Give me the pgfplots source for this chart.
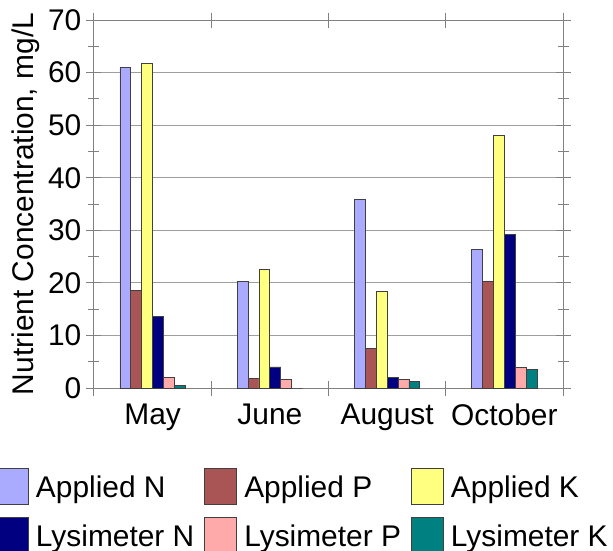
\documentclass[border=0pt]{standalone}
\usepackage{fontspec}
\setmainfont{Liberation Sans}
\usepackage{pgfplots}
\pgfplotsset{compat=1.18}

\definecolor{appN}{RGB}{170,170,255}
\definecolor{appP}{RGB}{170,85,85}
\definecolor{appK}{RGB}{255,255,128}
\definecolor{lysN}{RGB}{0,0,128}
\definecolor{lysP}{RGB}{255,170,170}
\definecolor{lysK}{RGB}{0,128,128}

\newcommand{\bigfont}{\fontsize{30}{36}\selectfont}

\begin{document}
\begin{tikzpicture}
\begin{axis}[
  scale only axis, width=469bp, height=368bp,
  ybar=0pt, bar width=10.9bp,
  xmin=-0.5, xmax=3.5, ymin=0, ymax=70,
  xtick={-0.5,0.5,1.5,2.5,3.5},
  xticklabels={May,June,August,October},
  x tick label as interval,
  ytick={0,10,...,70}, minor y tick num=1,
  ymajorgrids,
  major grid style={draw=black!38, line width=1bp},
  axis line style={draw=black!50, line width=1bp},
  tick align=center, major tick length=15bp, minor tick length=11bp,
  every tick/.style={draw=black!50, line width=1bp},
  tick label style={font=\bigfont},
  /pgf/number format/assume math mode=true,
  xticklabel style={anchor=north, inner sep=0pt, yshift=-8bp},
  yticklabel style={anchor=east, inner sep=0pt, xshift=-5bp},
  ylabel={Nutrient Concentration, mg/L},
  ylabel style={font=\bigfont, at={(rel axis cs:-0.130,0.5)}, anchor=base, inner sep=0pt},
  every axis plot/.append style={draw=black!75, line width=0.8bp,
    legend image code/.code={\draw[##1, line width=1bp] (0bp,-18bp) rectangle (32bp,18bp);}},
  legend columns=3,
  legend cell align=left,
  legend style={at={(rel axis cs:-0.209,-0.2174)}, anchor=north west,
    draw=none, fill=none, inner sep=0pt, outer sep=0pt, font=\bigfont,
    row sep=12bp,
    nodes={inner sep=0pt, text height=21.5bp, text depth=0pt},
    /tikz/every odd column/.style={column sep=7bp},
    /tikz/every even column/.style={column sep=10bp}},
]
\coordinate (o) at (rel axis cs:0,0);
\addplot[fill=appN] coordinates {(0,61.0) (1,20.2) (2,35.8) (3,26.3)};
\addlegendentry{Applied N}
\addplot[fill=appP] coordinates {(0,18.6) (1,1.8) (2,7.6) (3,20.3)};
\addlegendentry{Applied P}
\addplot[fill=appK] coordinates {(0,61.7) (1,22.6) (2,18.3) (3,48.1)};
\addlegendentry{Applied K}
\addplot[fill=lysN] coordinates {(0,13.6) (1,4.0) (2,2.0) (3,29.2)};
\addlegendentry{Lysimeter N}
\addplot[fill=lysP] coordinates {(0,2.0) (1,1.7) (2,1.7) (3,3.9)};
\addlegendentry{Lysimeter P}
\addplot[fill=lysK] coordinates {(0,0.4) (1,0) (2,1.3) (3,3.6)};
\addlegendentry{Lysimeter K}
\end{axis}
\pgfresetboundingbox
\path ([shift={(-94bp,-163bp)}]o) rectangle ++(613bp,551bp);
\end{tikzpicture}
\end{document}
